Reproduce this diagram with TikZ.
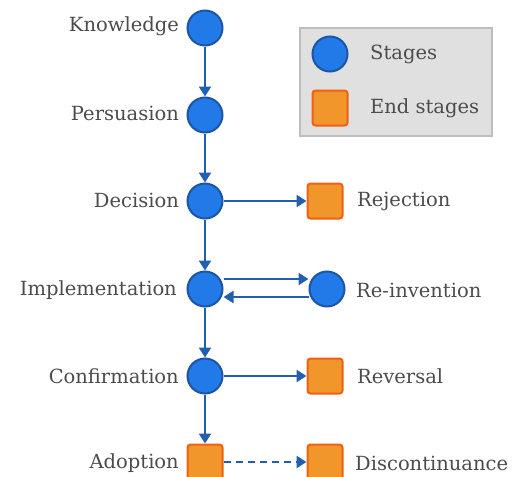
\documentclass[tikz,border=0pt]{standalone}
\usepackage{fontspec}
\setmainfont{DejaVu Serif}
\usetikzlibrary{arrows.meta}
\definecolor{stfill}{RGB}{33,122,232}
\definecolor{stdraw}{RGB}{28,85,165}
\definecolor{arr}{RGB}{35,95,175}
\definecolor{endfill}{RGB}{240,150,42}
\definecolor{enddraw}{RGB}{240,95,20}
\definecolor{legfill}{RGB}{224,224,224}
\definecolor{legdraw}{RGB}{190,190,190}
\definecolor{txt}{RGB}{75,75,75}
\tikzset{
  stage/.style={circle,fill=stfill,draw=stdraw,line width=2pt,minimum size=35pt,inner sep=0pt},
  endst/.style={rectangle,rounded corners=3pt,fill=endfill,draw=enddraw,line width=2pt,minimum size=35pt,inner sep=0pt},
  lbl/.style={text=txt,font=\fontsize{19.5}{22}\selectfont,inner sep=0pt},
  conn/.style={draw=arr,line width=2.7pt,-{Triangle[length=10pt,width=12pt]}},
}
\begin{document}
\begin{tikzpicture}[x=1pt,y=-1pt]
\useasboundingbox (0,0) rectangle (528,477);
% legend
\node[draw=legdraw,fill=legfill,line width=1.2pt,minimum width=192pt,minimum height=108pt,inner sep=0pt] (leg) at (396,82) {};
\node[stage] (ls) at (330,54) {};
\node[endst] (le) at (330,108) {};
\node[lbl,anchor=west] (lst) at (370,54) {Stages};
\node[lbl,anchor=west] (let) at (370,108) {End stages};
% main column
\node[stage] (k) at (205,28) {};
\node[stage] (p) at (205,115) {};
\node[stage] (d) at (205,201) {};
\node[stage] (i) at (205,289) {};
\node[stage] (c) at (205,376) {};
\node[endst] (a) at (205,462) {};
% right column
\node[endst] (rj) at (325,201) {};
\node[stage] (ri) at (327,289) {};
\node[endst] (rv) at (325,376) {};
\node[endst] (dc) at (325,462) {};
% labels
\node[lbl,anchor=east] (tk) at (179,26) {Knowledge};
\node[lbl,anchor=east] (tp) at (179,113) {Persuasion};
\node[lbl,anchor=east] (td) at (179,200) {Decision};
\node[lbl,anchor=east] (ti) at (177,290) {Implementation};
\node[lbl,anchor=east] (tc) at (179,376) {Confirmation};
\node[lbl,anchor=east] (ta) at (179,463) {Adoption};
\node[lbl,anchor=west] (trj) at (357,201) {Rejection};
\node[lbl,anchor=west] (tri) at (356,290) {Re-invention};
\node[lbl,anchor=west] (trv) at (357,376) {Reversal};
\node[lbl,anchor=west] (tdc) at (355,463) {Discontinuance};
% connectors
\draw[conn] (k) -- (p);
\draw[conn] (p) -- (d);
\draw[conn] (d) -- (i);
\draw[conn] (i) -- (c);
\draw[conn] (c) -- (a);
\draw[conn] (d) -- (rj);
\draw[conn] (c) -- (rv);
\draw[conn,dashed,dash pattern=on 7pt off 5pt] (a) -- (dc);
\draw[conn] (i.east |- 0,279) -- (ri.west |- 0,279) ;
\draw[conn] (ri.west |- 0,297) -- (i.east |- 0,297);
\end{tikzpicture}
\end{document}
